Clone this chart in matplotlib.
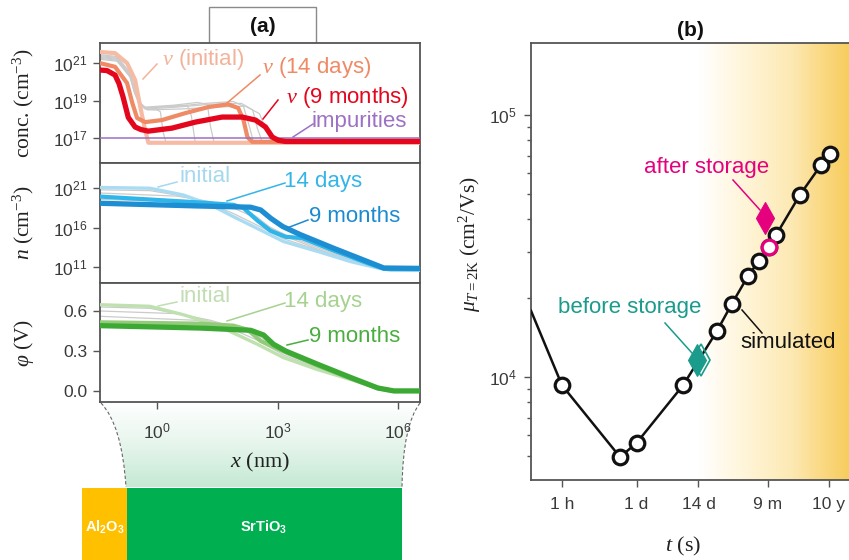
import numpy as np
import matplotlib
matplotlib.use('Agg')
import matplotlib.pyplot as plt
from matplotlib.path import Path
from matplotlib.patches import PathPatch, Rectangle
from matplotlib.colors import LinearSegmentedColormap
from matplotlib.ticker import FixedLocator, NullLocator, LogLocator, NullFormatter

plt.rcParams['font.family'] = ['Liberation Sans', 'DejaVu Sans']
plt.rcParams['mathtext.fontset'] = 'custom'
plt.rcParams['mathtext.rm'] = 'Liberation Serif'
plt.rcParams['mathtext.it'] = 'Liberation Serif:italic'
plt.rcParams['mathtext.bf'] = 'Liberation Serif:bold'

# ---------------- data: panel (a)  (x as log10 of x/nm) ----------------
# oxygen-vacancy concentration (log10 cm^-3)
conc_init_x = [-1.43, -1.05, -0.75, -0.55, -0.42, -0.3, -0.22, 6.58]
conc_init_y = [21.59, 21.53, 21.0, 20.1, 18.65, 17.43, 16.75, 16.75]
conc_14d_x = [-1.43, -1.05, -0.75, -0.62, -0.5, -0.3, 0.12, 0.7, 1.27, 1.77, 2.02, 2.15, 2.25, 2.37, 6.58]
conc_14d_y = [21.0, 20.8, 19.93, 18.87, 18.07, 17.85, 17.96, 18.33, 18.65, 18.8, 18.6, 17.96, 17.05, 16.8, 16.8]
conc_9m_x = [-1.43, -1.25, -1.05, -0.95, -0.85, -0.72, -0.55, -0.4, -0.22, 0.37, 0.95, 1.62, 2.12, 2.45, 2.7, 2.87, 3.02, 3.2, 6.58]
conc_9m_y = [20.63, 20.6, 20.36, 19.9, 19.19, 18.1, 17.59, 17.45, 17.37, 17.53, 17.85, 18.12, 18.12, 17.96, 17.59, 17.05, 16.88, 16.82, 16.82]
conc_gray_x = [
    [-1.43, -1.0, -0.72, -0.58, -0.45, -0.3, 0.0, 0.08, 0.15, 0.22, 6.58],
    [-1.43, -1.0, -0.7, -0.56, -0.43, -0.3, 0.3, 0.75, 0.85, 0.95, 6.58],
    [-1.43, -1.0, -0.68, -0.54, -0.42, -0.3, 0.4, 1.0, 1.25, 1.33, 1.42, 6.58],
    [-1.43, -1.0, -0.66, -0.52, -0.4, -0.28, 0.5, 1.2, 1.9, 2.15, 2.3, 2.4, 6.58],
    [-1.43, -1.0, -0.64, -0.5, -0.38, -0.26, 0.5, 1.3, 2.1, 2.38, 2.5, 2.62, 6.58],
    [-1.43, -1.0, -0.62, -0.48, -0.36, -0.24, 0.6, 1.4, 2.2, 2.55, 2.7, 2.85, 6.58],
]
conc_gray_y = [
    [21.45, 21.35, 20.6, 19.5, 18.8, 18.55, 18.5, 18.4, 17.3, 16.75, 16.75],
    [21.4, 21.3, 20.5, 19.4, 18.8, 18.6, 18.7, 18.75, 18.2, 16.75, 16.75],
    [21.35, 21.25, 20.4, 19.4, 18.85, 18.65, 18.75, 18.9, 18.8, 17.6, 16.75, 16.75],
    [21.3, 21.2, 20.3, 19.3, 18.8, 18.6, 18.7, 18.85, 18.95, 18.7, 17.6, 16.78, 16.78],
    [21.25, 21.15, 20.2, 19.2, 18.75, 18.55, 18.65, 18.8, 18.85, 18.5, 17.5, 16.78, 16.78],
    [21.2, 21.1, 20.1, 19.1, 18.7, 18.5, 18.55, 18.65, 18.7, 18.3, 17.5, 16.8, 16.8],
]
impurity_level = 17.0

# electron density n (log10 cm^-3)
n_init_x = [-1.43, -0.18, 0.65, 1.33, 1.9, 2.5, 3.15, 4.0, 4.83, 5.5, 5.83, 6.58]
n_init_y = [21.1, 21.0, 20.15, 18.9, 17.4, 15.9, 14.25, 13.0, 11.7, 10.9, 10.6, 10.6]
n_14d_x = [-1.43, 1.07, 1.9, 2.15, 2.5, 2.83, 3.2, 3.6, 4.4, 5.25, 5.65, 6.58]
n_14d_y = [19.95, 19.2, 18.9, 18.5, 16.9, 15.6, 14.85, 14.7, 13.1, 11.5, 10.8, 10.75]
n_9m_x = [-1.43, 1.07, 2.33, 2.58, 2.83, 3.13, 3.58, 4.4, 5.25, 5.65, 6.58]
n_9m_y = [19.1, 18.75, 18.6, 18.25, 17.2, 16.15, 15.1, 13.4, 11.7, 10.9, 10.85]
n_gray_x = [
    [-1.43, -0.18, 0.65, 1.33, 1.9, 2.5, 3.15, 4.0, 4.83, 5.5, 5.83, 6.58],
    [-1.43, 0.5, 1.33, 1.9, 2.3, 2.7, 3.15, 4.0, 4.83, 5.5, 5.83, 6.58],
    [-1.43, 1.0, 1.9, 2.2, 2.5, 2.8, 3.2, 4.0, 4.83, 5.5, 5.83, 6.58],
]
n_gray_y = [
    [20.8, 20.7, 20.0, 19.0, 17.8, 16.3, 14.6, 13.2, 11.8, 10.95, 10.7, 10.7],
    [20.4, 20.0, 19.3, 18.5, 17.6, 16.3, 15.0, 13.3, 11.8, 10.95, 10.7, 10.7],
    [19.6, 19.2, 18.8, 18.3, 17.3, 16.1, 15.1, 13.5, 11.9, 11.0, 10.75, 10.75],
]

# electrostatic potential phi (V)
phi_init_x = [-1.43, -0.18, 0.65, 1.33, 1.9, 2.5, 3.15, 4.0, 4.83, 5.5, 5.9, 6.58]
phi_init_y = [0.647, 0.635, 0.572, 0.51, 0.435, 0.35, 0.25, 0.16, 0.085, 0.022, 0.0, 0.0]
phi_14d_x = [-1.43, 1.07, 1.9, 2.25, 2.58, 2.9, 3.2, 4.0, 4.83, 5.5, 5.9, 6.58]
phi_14d_y = [0.515, 0.505, 0.49, 0.46, 0.375, 0.33, 0.29, 0.19, 0.092, 0.02, 0.0, 0.0]
phi_9m_x = [-1.43, 1.07, 2.33, 2.65, 2.9, 3.2, 4.0, 4.83, 5.5, 5.9, 6.58]
phi_9m_y = [0.49, 0.472, 0.455, 0.42, 0.35, 0.30, 0.2, 0.1, 0.022, 0.0, 0.0]
phi_gray_x = [
    [-1.43, -0.18, 0.65, 1.33, 1.9, 2.5, 3.15, 4.0, 4.83, 5.5, 5.9, 6.58],
    [-1.43, 0.5, 1.33, 1.9, 2.3, 2.7, 3.15, 4.0, 4.83, 5.5, 5.9, 6.58],
    [-1.43, 1.0, 1.9, 2.2, 2.5, 2.8, 3.2, 4.0, 4.83, 5.5, 5.9, 6.58],
]
phi_gray_y = [
    [0.63, 0.62, 0.57, 0.52, 0.46, 0.38, 0.27, 0.17, 0.09, 0.022, 0.0, 0.0],
    [0.6, 0.58, 0.53, 0.48, 0.44, 0.36, 0.29, 0.18, 0.09, 0.022, 0.0, 0.0],
    [0.56, 0.53, 0.49, 0.47, 0.42, 0.36, 0.3, 0.19, 0.09, 0.022, 0.0, 0.0],
]

xa_ticks = [1.0, 1e3, 1e6]
xa_ticklabels = [r'$\mathregular{10^{0}}$', r'$\mathregular{10^{3}}$', r'$\mathregular{10^{6}}$']
conc_ticks = [1e17, 1e19, 1e21]
conc_ticklabels = [r'$\mathregular{10^{17}}$', r'$\mathregular{10^{19}}$', r'$\mathregular{10^{21}}$']
n_ticks = [1e11, 1e16, 1e21]
n_ticklabels = [r'$\mathregular{10^{11}}$', r'$\mathregular{10^{16}}$', r'$\mathregular{10^{21}}$']
phi_ticks = [0.0, 0.3, 0.6]
phi_ticklabels = ['0.0', '0.3', '0.6']

# ---------------- data: panel (b) ----------------
t_sim = [3600, 42700, 86400, 627000, 2.67e6, 5.0e6, 1.0e7, 1.58e7, 2.45e7, 3.3e7, 9.1e7, 2.24e8, 3.3e8]
mu_sim = [9300, 4950, 5600, 9300, 15000, 19000, 24300, 27700, 31300, 34800, 49500, 64400, 71000]
highlight_index = 8
line_start_t = 960
line_start_mu = 17900
t_before = 1.14e6
mu_before = 11600
t_before_open = 1.32e6
t_after = 2.07e7
mu_after = 40400
tb_ticks = [3600, 86400, 1209600, 23328000, 315360000]
tb_ticklabels = ['1 h', '1 d', '14 d', '9 m', '10 y']
mub_ticks = [1e4, 1e5]
mub_ticklabels = [r'$\mathregular{10^{4}}$', r'$\mathregular{10^{5}}$']

# ---------------- figure ----------------
W, H = 849, 560
fig = plt.figure(figsize=(W / 100, H / 100), dpi=100)

def box(l, t, r, b):
    return [l / W, 1 - b / H, (r - l) / W, (b - t) / H]

SPINE = '#555555'
TICKC = '#3a3a3a'

# background overlay (decorations below everything)
ov = fig.add_axes([0, 0, 1, 1], zorder=-5)
ov.set_xlim(0, W); ov.set_ylim(H, 0); ov.axis('off')

verts = [(101, 403), (122, 425), (126, 487), (402, 487), (403, 425), (420, 403), (101, 403)]
codes = [Path.MOVETO, Path.CURVE3, Path.CURVE3, Path.LINETO, Path.CURVE3, Path.CURVE3, Path.CLOSEPOLY]
region = PathPatch(Path(verts, codes), facecolor='none', edgecolor='none', transform=ov.transData)
ov.add_patch(region)
grad = np.linspace(0, 1, 100).reshape(-1, 1)
gcm = LinearSegmentedColormap.from_list('g', ['#ffffff', '#e6f5ec', '#c4e9d3'])
im = ov.imshow(grad, extent=(100, 421, 488, 402), cmap=gcm, aspect='auto', origin='upper', interpolation='bilinear')
im.set_clip_path(region)
for vv in ([(101, 403), (122, 425), (126, 487)], [(420, 403), (403, 425), (402, 487)]):
    ov.add_patch(PathPatch(Path(vv, [Path.MOVETO, Path.CURVE3, Path.CURVE3]), fill=False,
                           edgecolor='#666666', lw=0.8, ls=(0, (3, 2)), transform=ov.transData))
ov.add_patch(Rectangle((82, 488), 45, 75, facecolor='#FFC000', edgecolor='none'))
ov.add_patch(Rectangle((127, 488), 275, 75, facecolor='#00B050', edgecolor='none'))
ov.text(104.5, 527, r'Al$_\mathregular{2}$O$_\mathregular{3}$', color='white', fontsize=10.5, fontweight='bold',
        ha='center', va='center')
ov.text(264, 527, r'SrTiO$_\mathregular{3}$', color='white', fontsize=10.5, fontweight='bold',
        ha='center', va='center')
ov.add_patch(Rectangle((209, 7), 107, 36, facecolor='white', edgecolor='#8a8a8a', lw=1.0))
ov.text(262.5, 27, '(a)', fontsize=15, fontweight='bold', ha='center', va='center', color='#111111')
ov.set_xlim(0, W); ov.set_ylim(H, 0)

def style_axes(ax):
    for s in ax.spines.values():
        s.set_color(SPINE); s.set_linewidth(1.3)
    ax.tick_params(which='both', direction='out', color=SPINE, width=1.0, labelcolor=TICKC,
                   labelsize=12.5)
    ax.tick_params(which='major', length=5)
    ax.tick_params(which='minor', length=3)

# ---- panel (a) axes ----
ax1 = fig.add_axes(box(100, 43, 420, 163))
ax2 = fig.add_axes(box(100, 163, 420, 283))
ax3 = fig.add_axes(box(100, 283, 420, 402))
xl = (10 ** -1.425, 10 ** 6.55)
for ax in (ax1, ax2, ax3):
    ax.set_xscale('log')
    ax.set_xlim(*xl)
    style_axes(ax)
    ax.xaxis.set_minor_locator(NullLocator())
    ax.yaxis.set_minor_locator(NullLocator())
for ax in (ax1, ax2):
    ax.set_xticks([])
    ax.tick_params(axis='x', bottom=False, labelbottom=False)

def P(xs):
    return 10 ** np.asarray(xs, dtype=float)

GRAY = '#cbcbcb'
# conc
ax1.set_yscale('log')
for gx, gy in zip(conc_gray_x, conc_gray_y):
    ax1.plot(P(gx), P(gy), color=GRAY, lw=0.9, zorder=2)
ax1.plot(P(conc_init_x), P(conc_init_y), color='#F6BBA3', lw=3.0, zorder=3, solid_capstyle='butt')
ax1.plot(P(conc_14d_x), P(conc_14d_y), color='#EF8A64', lw=3.0, zorder=4, solid_capstyle='butt')
ax1.axhline(10 ** impurity_level, color='#9C70C4', lw=1.1, zorder=5)
ax1.plot(P(conc_9m_x), P(conc_9m_y), color='#E3061C', lw=3.8, zorder=6, solid_capstyle='butt')
ax1.set_ylim(10 ** 15.67, 10 ** 22.07)
ax1.yaxis.set_major_locator(FixedLocator(conc_ticks))
ax1.set_yticklabels(conc_ticklabels)

# n
ax2.set_yscale('log')
for gx, gy in zip(n_gray_x, n_gray_y):
    ax2.plot(P(gx), P(gy), color=GRAY, lw=0.9, zorder=2)
ax2.plot(P(n_init_x), P(n_init_y), color='#A9DCF2', lw=2.4, zorder=3)
ax2.plot(P(n_14d_x), P(n_14d_y), color='#2EB5EA', lw=3.0, zorder=4)
ax2.plot(P(n_9m_x), P(n_9m_y), color='#1E8ED2', lw=3.8, zorder=5)
ax2.set_ylim(10 ** 9.0, 10 ** 24.2)
ax2.yaxis.set_major_locator(FixedLocator(n_ticks))
ax2.set_yticklabels(n_ticklabels)

# phi
for gx, gy in zip(phi_gray_x, phi_gray_y):
    ax3.plot(P(gx), gy, color=GRAY, lw=0.9, zorder=2)
ax3.plot(P(phi_init_x), phi_init_y, color='#BFE0AF', lw=2.4, zorder=3)
ax3.plot(P(phi_14d_x), phi_14d_y, color='#93CB7A', lw=3.0, zorder=4)
ax3.plot(P(phi_9m_x), phi_9m_y, color='#3DA935', lw=3.8, zorder=5)
ax3.set_ylim(-0.083, 0.81)
ax3.yaxis.set_major_locator(FixedLocator(phi_ticks))
ax3.set_yticklabels(phi_ticklabels)
ax3.xaxis.set_major_locator(FixedLocator(xa_ticks))
ax3.set_xticklabels(xa_ticklabels)
ax3.tick_params(axis='x', pad=9)

for ax in (ax1, ax2, ax3):
    ax.tick_params(axis='y', pad=4)

SERIF = ['Liberation Serif', 'DejaVu Serif']
ax1.set_ylabel(r'conc. (cm$^{-3}$)', fontsize=15.5, family=SERIF, color='#222222')
ax2.set_ylabel(r'$n$ (cm$^{-3}$)', fontsize=15.5, family=SERIF, color='#222222')
ax3.set_ylabel(r'$\varphi$ (V)', fontsize=15.5, family=SERIF, color='#222222')
for ax in (ax1, ax2, ax3):
    ax.yaxis.set_label_coords(-0.2, 0.5)
ax3.set_xlabel(r'$x$ (nm)', fontsize=16, family=SERIF, color='#222222')
ax3.xaxis.set_label_coords(0.5, -0.41)

# ---- panel (b) ----
gax = fig.add_axes(box(531, 43, 849, 480), zorder=0)
gax.axis('off')
bcm = LinearSegmentedColormap.from_list('y', [(0.0, '#ffffff'), (0.53, '#ffffff'), (0.66, '#fff6dc'),
                                              (0.82, '#fde9b4'), (0.9, '#fbdc8c'), (1.0, '#f7cd5e')])
gax.imshow(np.linspace(0, 1, 400).reshape(1, -1), cmap=bcm, aspect='auto', extent=(0, 1, 0, 1),
           interpolation='bilinear')
gax.set_xlim(0, 1); gax.set_ylim(0, 1)

axb = fig.add_axes(box(531, 43, 849, 480), zorder=1)
axb.set_facecolor('none')
axb.set_xscale('log'); axb.set_yscale('log')
style_axes(axb)
axb.spines['right'].set_visible(False)
axb.set_xlim(10 ** 2.982, 10 ** 8.87)
axb.set_ylim(10 ** 3.607, 10 ** 5.275)
axb.xaxis.set_major_locator(FixedLocator(tb_ticks))
axb.set_xticklabels(tb_ticklabels)
axb.xaxis.set_minor_locator(NullLocator())
axb.yaxis.set_major_locator(FixedLocator(mub_ticks))
axb.set_yticklabels(mub_ticklabels)
axb.yaxis.set_minor_locator(LogLocator(base=10, subs=np.arange(2, 10)))
axb.yaxis.set_minor_formatter(NullFormatter())
axb.tick_params(axis='y', pad=5)
axb.tick_params(axis='x', pad=7)

line_t = [line_start_t] + t_sim
line_mu = [line_start_mu] + mu_sim
axb.plot(line_t, line_mu, color='#111111', lw=1.8, zorder=3, clip_on=True)
axb.plot(t_sim, mu_sim, ls='none', marker='o', ms=10.5, mfc='white', mec='#111111', mew=2.3, zorder=4)
axb.plot([t_sim[highlight_index]], [mu_sim[highlight_index]], ls='none', marker='o', ms=10.5,
         mfc='white', mec='#E5007D', mew=2.3, zorder=5)
axb.plot([t_before_open], [mu_before], ls='none', marker='d', ms=16, mfc='none', mec='#1A9B8B', mew=1.2, zorder=5)
axb.plot([t_before], [mu_before], ls='none', marker='d', ms=16, mfc='#1A9B8B', mec='#1A9B8B', mew=0.8, zorder=6)
axb.plot([t_after], [mu_after], ls='none', marker='d', ms=16, mfc='#E5007D', mec='#E5007D', mew=0.8, zorder=6)

axb.set_ylabel(r'$\mu_{T=2\mathrm{K}}$ (cm$^2$/Vs)', fontsize=15.5, family=SERIF, color='#222222')
axb.yaxis.set_label_coords(-0.15, 0.54)
axb.set_xlabel(r'$t$ (s)', fontsize=16, family=SERIF, color='#222222')
axb.xaxis.set_label_coords(0.478, -0.125)
axb.set_title('(b)', fontsize=15, fontweight='bold', color='#111111', pad=5)

# ---------------- annotations overlay (top) ----------------
top = fig.add_axes([0, 0, 1, 1], zorder=10)
top.set_xlim(0, W); top.set_ylim(H, 0); top.axis('off')
top.patch.set_visible(False)

def label(x, y, s, color, lx0, ly0, lx1, ly1, fs=16, ha='center'):
    top.plot([lx0, lx1], [ly0, ly1], color=color, lw=1.1)
    top.text(x, y, s, color=color, fontsize=fs, ha=ha, va='center')

label(203, 59, r'$\nu$ (initial)', '#F3B39A', 157, 64, 143, 79)
label(317, 68, r'$\nu$ (14 days)', '#EF8A64', 260, 75, 227, 103)
label(347, 97, r'$\nu$ (9 months)', '#E3061C', 278, 100, 263, 119)
label(359, 122, 'impurities', '#9C70C4', 313, 124, 293, 137)

label(205, 177, 'initial', '#A6D8EE', 177, 182, 158, 187)
label(323, 182, '14 days', '#33B5E8', 285, 183, 227, 201)
label(355, 217, '9 months', '#1B8BCF', 308, 220, 287, 228)

label(205, 297, 'initial', '#C2DDB3', 177, 302, 158, 306)
label(323, 302, '14 days', '#A6D28F', 285, 303, 227, 321)
label(355, 337, '9 months', '#4AAE3E', 308, 340, 287, 345)

label(707, 168, 'after storage', '#E5007D', 733, 180, 760, 210, fs=16)
label(630, 308, 'before storage', '#1A9B8B', 665, 323, 692, 353, fs=16)
label(788, 343, 'simulated', '#111111', 742, 310, 762, 333, fs=16)

fig.savefig('out.png', dpi=100)
